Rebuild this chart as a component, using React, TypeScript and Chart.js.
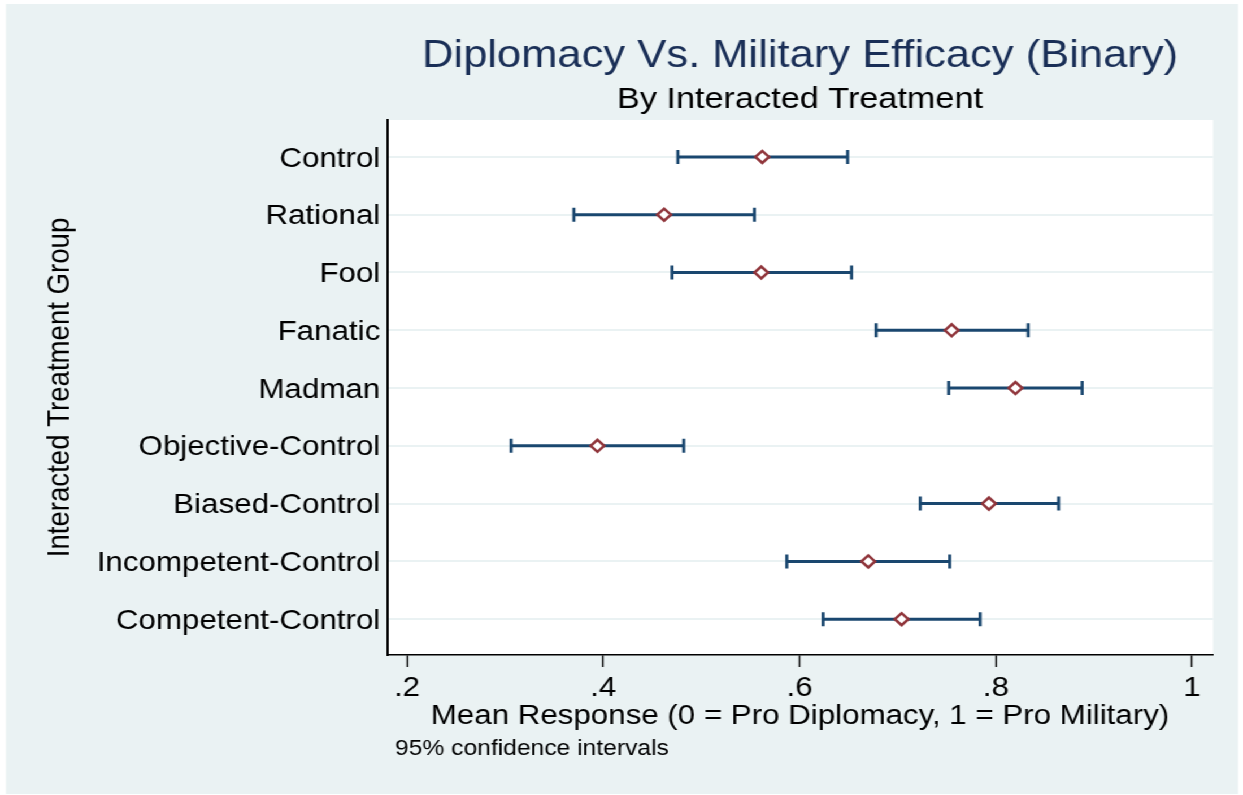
import React, { useEffect, useRef } from "react";
import { Chart, registerables } from "chart.js";

Chart.register(...registerables);

// ---------------- data ----------------
const categories = [
  "Control",
  "Rational",
  "Fool",
  "Fanatic",
  "Madman",
  "Objective-Control",
  "Biased-Control",
  "Incompetent-Control",
  "Competent-Control",
];
const meanValues = [0.562, 0.462, 0.561, 0.755, 0.82, 0.394, 0.793, 0.67, 0.704];
const lowerCI = [0.476, 0.37, 0.47, 0.678, 0.752, 0.306, 0.723, 0.587, 0.624];
const upperCI = [0.649, 0.554, 0.653, 0.833, 0.888, 0.482, 0.864, 0.753, 0.784];
const xTickValues = [0.2, 0.4, 0.6, 0.8, 1];
const xTickLabels = [".2", ".4", ".6", ".8", "1"];

const TITLE = "Diplomacy Vs. Military Efficacy (Binary)";
const SUBTITLE = "By Interacted Treatment";
const X_TITLE = "Mean Response (0 = Pro Diplomacy, 1 = Pro Military)";
const Y_TITLE = "Interacted Treatment Group";
const NOTE = "95% confidence intervals";

// ---------------- styling ----------------
const W = 1100;
const H = 795;
const SX = 1243 / W;
const FONT = "'Liberation Sans', Arial, Helvetica, sans-serif";
const BG = "#EAF2F3";
const NAVY = "#1A476F";
const CRANBERRY = "#90353B";
const TITLE_COLOR = "#1A2F57";

const stataPlugin = {
  id: "stataBackground",
  beforeDraw(chart: any) {
    const { ctx, width, height, chartArea } = chart;
    ctx.save();
    ctx.fillStyle = "#ffffff";
    ctx.fillRect(0, 0, width, height);
    ctx.fillStyle = BG;
    ctx.fillRect(5.3, 4, 1090.3, 790);
    ctx.fillStyle = "#ffffff";
    ctx.fillRect(
      chartArea.left,
      chartArea.top,
      chartArea.right - chartArea.left,
      chartArea.bottom - chartArea.top
    );
    ctx.restore();
  },
  afterDraw(chart: any) {
    const { ctx } = chart;
    ctx.save();
    ctx.font = `21.8px ${FONT}`;
    ctx.fillStyle = "#000";
    ctx.textAlign = "left";
    ctx.textBaseline = "middle";
    ctx.fillText(NOTE, 349.6, 748.5);
    ctx.restore();
  },
};

export default function App() {
  const ref = useRef<HTMLCanvasElement>(null);

  useEffect(() => {
    document.body.style.margin = "0";
    const meanDataset: any = {
      label: "Mean",
      data: categories.map((_, i) => ({ x: meanValues[i], y: i })),
      showLine: false,
      pointStyle: "rectRot",
      pointRadius: 6,
      pointHoverRadius: 6,
      pointBorderWidth: 2.5,
      pointBorderColor: CRANBERRY,
      pointBackgroundColor: "#ffffff",
      order: 0,
    };
    const ciDatasets: any[] = categories.map((c, i) => ({
      label: c + " CI",
      data: [
        { x: lowerCI[i], y: i },
        { x: upperCI[i], y: i },
      ],
      showLine: true,
      borderColor: NAVY,
      borderWidth: 3,
      pointStyle: "line",
      pointRotation: 90,
      pointRadius: 7,
      pointHoverRadius: 7,
      pointBorderWidth: 2.7,
      pointBorderColor: NAVY,
      pointBackgroundColor: NAVY,
      order: 1,
    }));

    const chart = new Chart(ref.current as HTMLCanvasElement, {
      type: "scatter",
      data: { datasets: [meanDataset, ...ciDatasets] },
      plugins: [stataPlugin],
      options: {
        animation: false,
        responsive: true,
        maintainAspectRatio: false,
        devicePixelRatio: 1,
        layout: { padding: { left: 39.2, right: 26.5, top: 0, bottom: 65 } },
        plugins: {
          legend: { display: false },
          tooltip: { enabled: false },
          title: {
            display: true,
            text: TITLE,
            color: TITLE_COLOR,
            fullSize: false,
            font: { family: FONT, size: 38.5, weight: "normal", lineHeight: 1.2 },
            padding: { top: 33.5, bottom: 0 },
          },
          subtitle: {
            display: true,
            text: SUBTITLE,
            color: "#000",
            fullSize: false,
            font: { family: FONT, size: 30.3, weight: "normal", lineHeight: 1.2 },
            padding: { top: 2.1, bottom: 1.8 },
          },
        },
        scales: {
          x: {
            type: "linear",
            min: 0.1796,
            max: 1.0214,
            afterBuildTicks: (s: any) => {
              s.ticks = xTickValues.map((v) => ({ value: v }));
            },
            afterFit: (s: any) => {
              s.height = 75;
            },
            ticks: {
              autoSkip: false,
              maxRotation: 0,
              padding: 4.4,
              color: "#000",
              font: { family: FONT, size: 27.7, lineHeight: 1.2 },
              callback: (_v: any, i: number) => xTickLabels[i],
            },
            grid: {
              display: true,
              drawOnChartArea: false,
              drawTicks: true,
              tickLength: 12,
              tickColor: "#000",
              tickWidth: 1.4,
            },
            border: { display: true, color: "#000", width: 1.4 },
            title: {
              display: true,
              text: X_TITLE,
              color: "#000",
              font: { family: FONT, size: 27.7, lineHeight: 1 },
              padding: { top: 0, bottom: 0 },
            },
          },
          y: {
            type: "linear",
            reverse: true,
            min: -0.64,
            max: 8.62,
            afterBuildTicks: (s: any) => {
              s.ticks = categories.map((_, i) => ({ value: i }));
            },
            afterFit: (s: any) => {
              s.width = 303.3;
            },
            ticks: {
              autoSkip: false,
              padding: 6,
              labelOffset: 2,
              color: "#000",
              font: { family: FONT, size: 27.7, lineHeight: 1.2 },
              callback: (v: any) => categories[Math.round(v)],
            },
            grid: {
              display: true,
              drawOnChartArea: true,
              drawTicks: false,
              color: BG,
              lineWidth: 2,
            },
            border: { display: true, color: "#000", width: 2 },
            title: {
              display: true,
              text: Y_TITLE,
              color: "#000",
              font: { family: FONT, size: 27.6, lineHeight: 1 },
              padding: { top: 0, bottom: 19.7 },
            },
          },
        },
      } as any,
    });
    return () => chart.destroy();
  }, []);

  return (
    <div
      style={{
        position: "fixed",
        left: 0,
        top: 0,
        width: W,
        height: H,
        transform: `scaleX(${SX})`,
        transformOrigin: "0 0",
        background: "#fff",
      }}
    >
      <canvas ref={ref} />
    </div>
  );
}
